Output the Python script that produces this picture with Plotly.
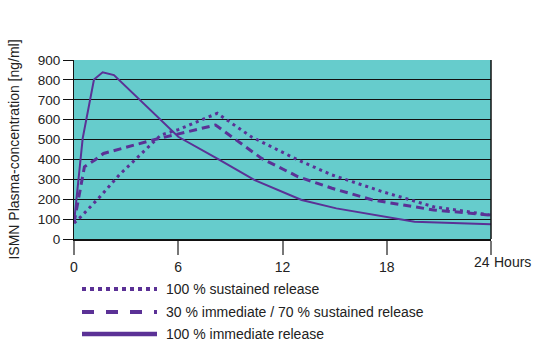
import plotly.graph_objects as go

# Data (hours, ng/ml)
hours_sr = [0, 0.4, 1.5, 2.6, 4.0, 5.0, 6.0, 7.3, 8.25, 10.2, 12.9, 14.85, 17.75, 20.7, 24]
conc_sr = [80, 112, 213, 322, 439, 523, 550, 598, 632, 514, 397, 322, 238, 162, 120]

hours_mix = [0, 0.6, 1.2, 1.7, 4.5, 5.9, 7.3, 8.15, 10.8, 12.9, 14.85, 17.2, 20.7, 24]
conc_mix = [80, 363, 397, 430, 497, 526, 556, 573, 405, 313, 255, 196, 146, 120]

hours_ir = [0, 0.5, 1.15, 1.65, 2.3, 6.0, 8.3, 10.4, 13.1, 15.1, 19.6, 24]
conc_ir = [80, 506, 802, 838, 824, 514, 402, 296, 196, 154, 87, 74]

x_tickvals = [0, 6, 12, 18, 24]
x_ticktext = ["0", "6", "12", "18", ""]
last_tick_label = "24"
x_unit = "Hours"
y_tickvals = [0, 100, 200, 300, 400, 500, 600, 700, 800, 900]

series_names = ["100 % sustained release",
                "30 % immediate / 70 % sustained release",
                "100 % immediate release"]

purple = "#5b3196"
font_family = "Liberation Sans, Arial, sans-serif"

fig = go.Figure()
fig.add_trace(go.Scatter(x=hours_sr, y=conc_sr, mode="lines", name=series_names[0],
                         line=dict(color=purple, width=3, dash="3px,4px")))
fig.add_trace(go.Scatter(x=hours_mix, y=conc_mix, mode="lines", name=series_names[1],
                         line=dict(color=purple, width=3, dash="8px,5px")))
fig.add_trace(go.Scatter(x=hours_ir, y=conc_ir, mode="lines", name=series_names[2],
                         line=dict(color=purple, width=2)))

fig.update_layout(
    width=534, height=355,
    margin=dict(l=74, r=43, t=60, b=116),
    paper_bgcolor="white", plot_bgcolor="#66cccc",
    showlegend=False,
    font=dict(family=font_family, size=13, color="#222222"),
)
fig.update_xaxes(
    range=[0, 24], tickvals=x_tickvals, ticktext=x_ticktext,
    ticks="outside", ticklen=14, tickcolor="#777777", tickwidth=1.5,
    showgrid=False, zeroline=False,
    showline=True, linecolor="#111111", linewidth=2, mirror=False,
    tickfont=dict(size=14), fixedrange=True,
)
fig.update_yaxes(
    range=[0, 900], tickvals=y_tickvals,
    ticks="outside", ticklen=10, tickcolor="#111111", tickwidth=1,
    showgrid=True, gridcolor="#111111", gridwidth=1, zeroline=False,
    showline=True, linecolor="#111111", linewidth=1,
    tickfont=dict(size=13.5),
    title=dict(text="ISMN Plasma-concentration [ng/ml]", font=dict(size=14), standoff=14),
)
# right border of plot area
fig.add_shape(type="line", xref="paper", yref="paper", x0=1, x1=1, y0=0, y1=1,
              line=dict(color="#111111", width=1.5))
fig.add_annotation(text=last_tick_label, xref="x", yref="paper", x=x_tickvals[-1], y=0,
                   yshift=-23, xshift=1, xanchor="right", yanchor="middle", showarrow=False,
                   font=dict(size=14))
fig.add_annotation(text=x_unit, xref="x", yref="paper", x=x_tickvals[-1], y=0,
                   yshift=-23, xshift=1, xanchor="left", yanchor="middle", showarrow=False,
                   font=dict(size=14))

# manual legend below the chart
legend_dash = ["dot", "dash", "solid"]
legend_width = [4, 4, 4.5]
legend_y = [289, 312, 334]
for name, dash, w, py in zip(series_names, legend_dash, legend_width, legend_y):
    yp = (355 - 116 - py) / (355 - 60 - 116)
    fig.add_shape(type="line", xref="paper", yref="paper",
                  x0=(82 - 74) / 417, x1=(157 - 74) / 417, y0=yp, y1=yp,
                  line=dict(color=purple, width=w, dash=dash))
    fig.add_annotation(text=name, xref="paper", yref="paper", x=(164 - 74) / 417, y=yp,
                       xanchor="left", yanchor="middle", showarrow=False,
                       font=dict(size=14, color="#222222"))

fig.write_html("out.html", config={"displayModeBar": False},
               post_script="document.body.style.margin='0';")
